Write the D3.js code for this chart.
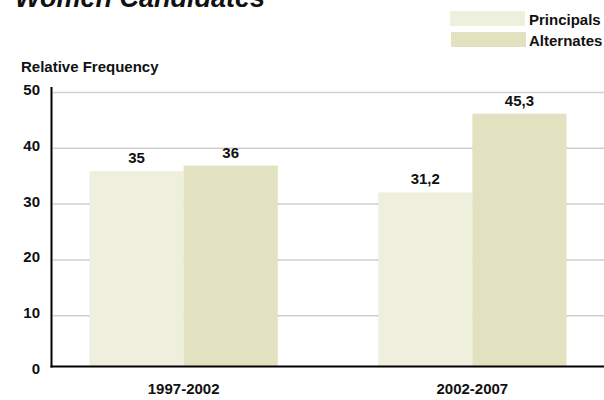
<!DOCTYPE html>
<html>
<head>
<meta charset="utf-8">
<script src="https://cdn.jsdelivr.net/npm/d3@7"></script>
<style>
  html, body { margin: 0; padding: 0; background: #ffffff; }
  svg { display: block; }
  text { font-family: "Liberation Sans", Arial, Helvetica, sans-serif; font-weight: bold; fill: #111; }
</style>
</head>
<body>
<svg id="chart" width="604" height="400"></svg>
<script>
// ---- data ----
const categories = ["1997-2002", "2002-2007"];
const seriesNames = ["Principals", "Alternates"];
const principals = [35, 31.2];
const alternates = [36, 45.3];
const valueLabels = [["35", "31,2"], ["36", "45,3"]];
const yTicks = [0, 10, 20, 30, 40, 50];
const titleText = "Women Candidates";
const yAxisTitle = "Relative Frequency";

// ---- styles ----
const colors = ["#efefde", "#e2e1c0"];
const W = 604, H = 400;
const svg = d3.select("#chart");

const y = d3.scaleLinear().domain([0, 50]).range([366.5, 87.5]);
const x = d3.scaleBand().domain(categories).range([52, 604]).paddingInner(0.348).paddingOuter(0.13);
const xs = d3.scaleBand().domain(seriesNames).range([0, x.bandwidth()]).padding(0);

const seriesValues = [principals, alternates];

// title (cut off at top, as in the original)
svg.append("text").attr("x", 15).attr("y", 7)
  .attr("font-size", 27).attr("font-style", "italic").text(titleText);

// legend
const lg = svg.append("g");
seriesNames.forEach((s, i) => {
  lg.append("rect").attr("x", 450 + i).attr("y", i === 0 ? 11 : 32)
    .attr("width", 75).attr("height", 15).attr("fill", colors[i]);
  lg.append("text").attr("x", 529).attr("y", i === 0 ? 25 : 46)
    .attr("font-size", 15).text(s);
});

// y axis title
svg.append("text").attr("x", 21).attr("y", 71.5).attr("font-size", 15).text(yAxisTitle);

// gridlines
svg.append("g").selectAll("line").data(yTicks.filter(t => t > 0)).join("line")
  .attr("x1", 53).attr("x2", W)
  .attr("y1", d => y(d) + 5).attr("y2", d => y(d) + 5)
  .attr("stroke", "#cfcfcf").attr("stroke-width", 1.5);

// tick labels
svg.append("g").selectAll("text").data(yTicks).join("text")
  .attr("x", 40).attr("y", d => y(d) + 2).attr("dy", "0.36em")
  .attr("text-anchor", "end").attr("font-size", 15).text(d => d);

// bars
const groups = svg.append("g").selectAll("g").data(categories).join("g")
  .attr("transform", d => `translate(${x(d)},0)`);
groups.each(function (cat, ci) {
  const g = d3.select(this);
  seriesNames.forEach((s, si) => {
    const v = seriesValues[si][ci];
    g.append("rect").attr("x", xs(s)).attr("width", xs.bandwidth())
      .attr("y", y(v)).attr("height", y(0) - y(v)).attr("fill", colors[si]);
    g.append("text").attr("x", xs(s) + xs.bandwidth() / 2).attr("y", y(v) - 8)
      .attr("text-anchor", "middle").attr("font-size", 15).text(valueLabels[si][ci]);
  });
});

// axes lines
svg.append("line").attr("x1", 51.5).attr("x2", 51.5).attr("y1", 87).attr("y2", 367.5)
  .attr("stroke", "#000").attr("stroke-width", 2);
svg.append("line").attr("x1", 50.5).attr("x2", W).attr("y1", y(0)).attr("y2", y(0))
  .attr("stroke", "#000").attr("stroke-width", 2);

// category labels
svg.append("g").selectAll("text").data(categories).join("text")
  .attr("x", d => x(d) + x.bandwidth() / 2).attr("y", 393.5)
  .attr("text-anchor", "middle").attr("font-size", 15).text(d => d);
</script>
</body>
</html>
